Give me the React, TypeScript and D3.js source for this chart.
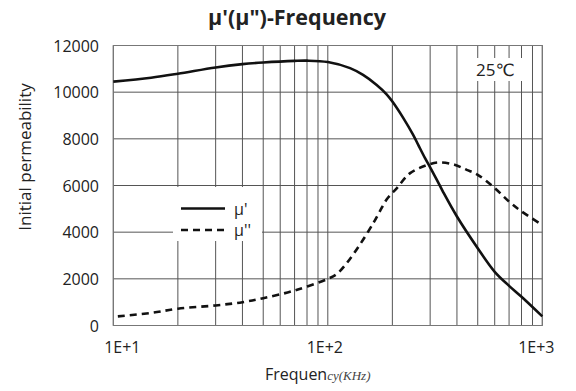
import React from 'react'
import * as d3 from 'd3'

// frequency (KHz) and initial permeability
const muRealFreq = [10, 15, 20, 30, 40, 50, 70, 80, 100, 127, 146, 169, 188, 200, 225, 250, 264, 284, 300, 322, 345, 400, 500, 600, 700, 800, 1000]
const muReal = [10450, 10620, 10790, 11060, 11200, 11270, 11340, 11350, 11290, 11030, 10740, 10310, 9910, 9600, 8890, 8170, 7740, 7170, 6780, 6250, 5720, 4670, 3310, 2300, 1700, 1230, 390]

const muImagFreq = [10.5, 15, 20, 30, 40, 50, 70, 100, 110, 122, 141, 163, 175, 188, 210, 242, 300, 333, 390, 444, 500, 600, 700, 800, 1000]
const muImag = [390, 540, 720, 860, 1000, 1170, 1500, 2000, 2200, 2650, 3460, 4390, 4900, 5400, 5890, 6530, 6920, 6990, 6890, 6670, 6460, 5890, 5310, 4890, 4310]

const yTicks = [0, 2000, 4000, 6000, 8000, 10000, 12000]
const xLabels = [
  { v: 10, text: '1E+1', dx: 9 },
  { v: 100, text: '1E+2', dx: -3 },
  { v: 1000, text: '1E+3', dx: -6 },
]
const xGrid = [10, 20, 30, 40, 50, 60, 70, 80, 90, 100, 200, 300, 400, 500, 600, 700, 800, 900, 1000]

const W = 576, H = 391
const font = '"Open Sans", "DejaVu Sans", sans-serif'

export default function App() {
  const x = d3.scaleLog().domain([10, 1000]).range([113.3, 542.3])
  const y = d3.scaleLinear().domain([0, 12000]).range([325.5, 45.5])

  const line = d3.line<[number, number]>()
    .x(d => x(d[0]))
    .y(d => y(d[1]))
    .curve(d3.curveCatmullRom.alpha(0.5))

  const realPath = line(muRealFreq.map((f, i) => [f, muReal[i]]))
  const imagPath = line(muImagFreq.map((f, i) => [f, muImag[i]]))

  const [x0, x1] = x.range()
  const [y0, y1] = y.range()

  return (
    <svg width={W} height={H} style={{ position: 'absolute', left: 0, top: 0, background: '#fff' }} fontFamily={font}>
      <text x={297} y={25} textAnchor="middle" fontSize={21.5} fontWeight="bold" fill="#222">μ'(μ")-Frequency</text>

      {/* grid */}
      <g stroke="#555" strokeWidth={1}>
        {yTicks.map(t => (
          <line key={'h' + t} x1={x0} x2={x1} y1={y(t)} y2={y(t)} />
        ))}
        {xGrid.map(t => (
          <line key={'v' + t} x1={x(t)} x2={x(t)} y1={y0} y2={y1} />
        ))}
      </g>
      <rect x={x0} y={y1} width={x1 - x0} height={y0 - y1} fill="none" stroke="#777" />

      {/* white boxes behind the legend and temperature note */}
      <rect x={173} y={187} width={89} height={54} fill="#fff" />
      <rect x={463} y={58} width={62} height={23} fill="#fff" />

      <path d={imagPath ?? ''} fill="none" stroke="#111" strokeWidth={2.6} strokeDasharray="7,5" />
      <path d={realPath ?? ''} fill="none" stroke="#111" strokeWidth={2.6} />

      {/* legend */}
      <line x1={181} x2={225} y1={208.5} y2={208.5} stroke="#111" strokeWidth={2.6} />
      <text x={234} y={215} fontSize={16} fill="#222">μ'</text>
      <line x1={181} x2={227} y1={230} y2={230} stroke="#111" strokeWidth={2.6} strokeDasharray="7,5" />
      <text x={234} y={236} fontSize={16} fill="#222">μ''</text>

      <text x={476} y={76} fontSize={17} fill="#222">25℃</text>

      {/* y axis labels */}
      {yTicks.map(t => (
        <text key={'yl' + t} x={99} y={y(t) + 6} textAnchor="end" fontSize={16} fill="#222">{t}</text>
      ))}
      <text transform="translate(31,157) rotate(-90)" textAnchor="middle" fontSize={17} fill="#222">Initial permeability</text>

      {/* x axis labels */}
      {xLabels.map(l => (
        <text key={l.text} x={x(l.v) + l.dx} y={353} textAnchor="middle" fontSize={16} fill="#222">{l.text}</text>
      ))}
      <text x={265} y={380} fontSize={16} fill="#222">
        Frequen<tspan fontFamily="'Liberation Serif', serif" fontStyle="italic" fontSize={13} fill="#444">cy(KHz)</tspan>
      </text>
    </svg>
  )
}
